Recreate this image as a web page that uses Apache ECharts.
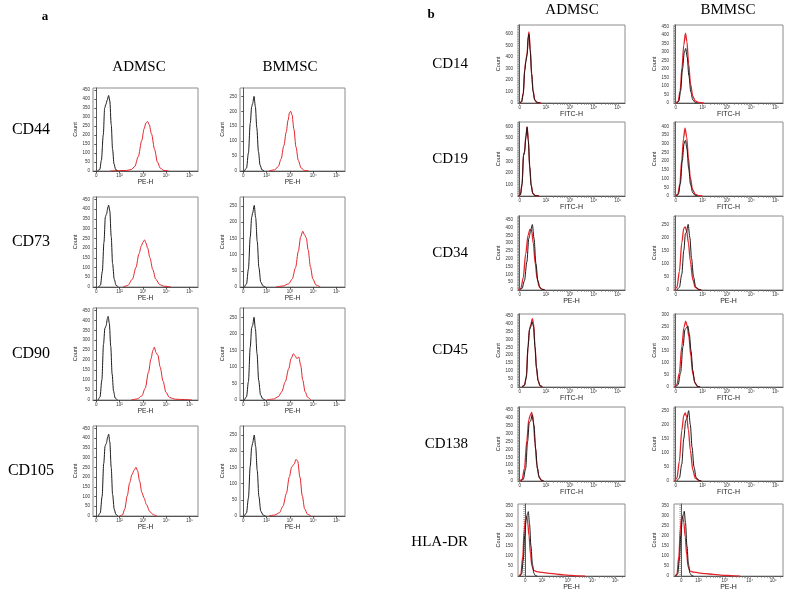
<!DOCTYPE html>
<html><head><meta charset="utf-8">
<script src="https://cdn.jsdelivr.net/npm/echarts@6/dist/echarts.min.js"></script>
<style>html,body{margin:0;padding:0;background:#fff}#c{width:787px;height:592px}</style>
</head><body><div id="c"></div>
<script>
// ================= DATA =================
const xTickLabels = ['0', '10²', '10³', '10⁴', '10⁵'];
const columns = ['ADMSC', 'BMMSC'];
const rowsA = ['CD44', 'CD73', 'CD90', 'CD105'];
const rowsB = ['CD14', 'CD19', 'CD34', 'CD45', 'CD138', 'HLA-DR'];
const channelsA = ['PE-H', 'PE-H', 'PE-H', 'PE-H'];
const channelsB = ['FITC-H', 'FITC-H', 'PE-H', 'FITC-H', 'FITC-H', 'PE-H'];

// y axis per panel: [tick step, axis max]  (ADMSC, BMMSC)
const yAxisA = [[[50, 462], [50, 278]], [[50, 462], [50, 278]], [[50, 462], [50, 278]], [[50, 462], [50, 278]]];
const yAxisB = [[[100, 680], [50, 458]], [[100, 640], [50, 425]], [[50, 475], [50, 282]],
                [[50, 460], [50, 305]], [[50, 470], [50, 263]], [[50, 358], [50, 358]]];

// x decade positions of the tick labels (display units)
const xTicksA = [0, 1, 2, 3, 4];
const xTicksB = [0, 1.1, 2.1, 3.1, 4.1];
const xTicksHLA = [0, 0.7, 1.78, 2.8, 3.76];

// ---- panel a curves [x, count] ----
const a_cd44_ad_black = [[0.05,0],[0.15,8],[0.22,60],[0.3,200],[0.36,350],[0.41,370],[0.47,395],[0.53,420],[0.58,390],[0.64,260],[0.7,120],[0.76,40],[0.83,8],[0.92,0]];
const a_cd44_ad_red = [[0.6,0],[1.0,2],[1.3,3],[1.5,8],[1.65,25],[1.8,80],[1.95,170],[2.05,235],[2.13,268],[2.2,275],[2.27,258],[2.37,205],[2.5,120],[2.62,50],[2.75,15],[2.9,3],[3.1,0]];
const a_cd44_bm_black = [[0.05,0],[0.14,10],[0.22,60],[0.3,160],[0.36,215],[0.4,225],[0.46,250],[0.52,215],[0.58,145],[0.65,65],[0.72,20],[0.8,4],[0.9,0]];
const a_cd44_bm_red = [[1.1,0],[1.35,4],[1.5,15],[1.62,40],[1.74,85],[1.84,130],[1.92,170],[1.98,195],[2.03,200],[2.09,188],[2.17,140],[2.26,80],[2.36,35],[2.48,10],[2.62,2],[2.8,0]];

const a_cd73_ad_black = [[0.1,0],[0.18,10],[0.26,80],[0.33,230],[0.39,360],[0.44,375],[0.5,410],[0.53,420],[0.58,390],[0.64,260],[0.7,120],[0.77,40],[0.85,8],[0.95,0]];
const a_cd73_ad_red = [[1.15,0],[1.35,8],[1.55,40],[1.7,100],[1.83,170],[1.93,210],[2.0,230],[2.07,242],[2.13,225],[2.2,200],[2.3,150],[2.42,90],[2.55,40],[2.72,12],[2.9,4],[3.2,0]];
const a_cd73_bm_black = [[0.05,0],[0.14,10],[0.22,55],[0.3,155],[0.36,215],[0.4,228],[0.47,252],[0.53,215],[0.6,140],[0.67,60],[0.75,15],[0.85,3],[0.95,0]];
const a_cd73_bm_red = [[1.4,0],[1.7,3],[1.95,10],[2.1,25],[2.24,60],[2.36,110],[2.46,155],[2.55,172],[2.62,162],[2.7,152],[2.78,115],[2.88,62],[2.98,25],[3.12,6],[3.3,0]];

const a_cd90_ad_black = [[0.08,0],[0.16,15],[0.24,100],[0.31,280],[0.37,360],[0.42,372],[0.48,410],[0.51,420],[0.56,385],[0.62,270],[0.68,130],[0.74,45],[0.81,10],[0.9,0]];
const a_cd90_ad_red = [[1.5,0],[1.75,5],[1.95,20],[2.1,60],[2.24,140],[2.34,205],[2.43,250],[2.49,265],[2.56,238],[2.64,225],[2.74,165],[2.86,95],[2.99,38],[3.14,12],[3.4,4],[3.8,2],[4.1,0]];
const a_cd90_bm_black = [[0.05,0],[0.14,10],[0.22,55],[0.3,160],[0.36,218],[0.4,225],[0.46,250],[0.52,215],[0.59,140],[0.66,60],[0.74,15],[0.84,3],[0.94,0]];
const a_cd90_bm_red = [[1.0,0],[1.3,3],[1.5,10],[1.65,25],[1.8,55],[1.95,95],[2.05,125],[2.15,140],[2.22,134],[2.3,125],[2.38,130],[2.46,105],[2.55,60],[2.65,25],[2.76,8],[2.9,0]];

const a_cd105_ad_black = [[0.08,0],[0.17,15],[0.25,100],[0.32,270],[0.38,360],[0.43,372],[0.49,405],[0.53,420],[0.58,380],[0.64,250],[0.7,110],[0.77,35],[0.84,8],[0.93,0]];
const a_cd105_ad_red = [[1.0,0],[1.12,5],[1.22,35],[1.33,105],[1.43,170],[1.53,212],[1.62,235],[1.7,250],[1.77,232],[1.86,178],[1.95,122],[2.05,92],[2.15,58],[2.3,22],[2.45,6],[2.6,0]];
const a_cd105_bm_black = [[0.05,0],[0.14,10],[0.22,55],[0.3,155],[0.36,212],[0.4,225],[0.47,250],[0.53,215],[0.6,140],[0.67,60],[0.75,15],[0.85,3],[0.95,0]];
const a_cd105_bm_red = [[1.1,0],[1.35,3],[1.55,10],[1.7,30],[1.85,70],[1.97,120],[2.08,152],[2.18,160],[2.26,175],[2.33,170],[2.43,120],[2.53,62],[2.63,22],[2.76,5],[2.9,0]];

// ---- panel b curves [x, count] ----
const b_cd14_ad_black = [[0.0,0],[0.08,10],[0.15,80],[0.21,280],[0.26,365],[0.31,420],[0.36,570],[0.39,600],[0.44,460],[0.5,250],[0.56,100],[0.63,25],[0.72,5],[0.85,0]];
const b_cd14_ad_red = [[0.0,0],[0.08,12],[0.15,85],[0.21,290],[0.26,370],[0.31,430],[0.36,590],[0.39,620],[0.44,470],[0.5,260],[0.56,105],[0.63,28],[0.72,6],[0.9,0]];
const b_cd14_bm_black = [[0.05,0],[0.13,10],[0.2,70],[0.28,200],[0.35,295],[0.41,320],[0.47,270],[0.54,160],[0.62,65],[0.7,18],[0.8,3],[0.9,0]];
const b_cd14_bm_red = [[0.0,0],[0.1,10],[0.18,70],[0.26,210],[0.33,340],[0.4,410],[0.46,360],[0.53,230],[0.61,110],[0.7,40],[0.8,12],[0.95,3],[1.15,0]];

const b_cd19_ad_black = [[-0.05,0],[0.03,10],[0.1,100],[0.16,350],[0.2,375],[0.26,510],[0.31,595],[0.36,480],[0.42,250],[0.48,90],[0.55,20],[0.65,3],[0.8,0]];
const b_cd19_ad_red = [[-0.05,0],[0.03,12],[0.1,105],[0.16,355],[0.2,380],[0.26,515],[0.31,600],[0.36,490],[0.42,255],[0.48,95],[0.55,22],[0.65,4],[0.8,0]];
const b_cd19_bm_black = [[0.03,0],[0.11,10],[0.19,70],[0.27,200],[0.34,300],[0.4,320],[0.46,270],[0.53,160],[0.61,65],[0.7,18],[0.8,3],[0.9,0]];
const b_cd19_bm_red = [[0.0,0],[0.09,10],[0.17,70],[0.25,210],[0.32,330],[0.38,390],[0.45,340],[0.52,220],[0.6,105],[0.69,38],[0.8,10],[0.95,2],[1.1,0]];

const b_cd34_ad_black = [[0.0,0],[0.1,10],[0.2,60],[0.3,180],[0.38,330],[0.45,370],[0.53,420],[0.6,330],[0.68,170],[0.76,60],[0.85,15],[0.95,3],[1.05,0]];
const b_cd34_ad_red = [[-0.05,0],[0.05,10],[0.15,80],[0.25,230],[0.35,350],[0.43,390],[0.5,380],[0.57,300],[0.65,170],[0.73,70],[0.82,20],[0.92,5],[1.05,0]];
const b_cd34_bm_black = [[0.05,0],[0.15,10],[0.25,60],[0.33,150],[0.4,215],[0.44,220],[0.51,250],[0.58,200],[0.65,120],[0.73,50],[0.82,12],[0.95,2],[1.05,0]];
const b_cd34_bm_red = [[-0.05,0],[0.05,10],[0.15,70],[0.25,180],[0.33,235],[0.39,240],[0.45,225],[0.52,180],[0.6,110],[0.7,40],[0.8,10],[0.95,2],[1.05,0]];

const b_cd45_ad_black = [[0.1,0],[0.2,10],[0.28,60],[0.35,250],[0.41,360],[0.45,375],[0.52,410],[0.58,380],[0.64,250],[0.7,120],[0.77,40],[0.85,8],[0.95,0]];
const b_cd45_ad_red = [[0.1,0],[0.2,12],[0.28,70],[0.35,260],[0.41,365],[0.46,390],[0.53,430],[0.58,400],[0.64,260],[0.7,125],[0.77,40],[0.85,8],[0.95,0]];
const b_cd45_bm_black = [[0.0,0],[0.1,10],[0.2,60],[0.3,170],[0.38,240],[0.43,245],[0.5,255],[0.56,220],[0.63,150],[0.7,70],[0.78,20],[0.88,3],[1.0,0]];
const b_cd45_bm_red = [[-0.05,0],[0.05,10],[0.15,60],[0.25,170],[0.34,250],[0.41,275],[0.47,255],[0.54,210],[0.62,130],[0.7,55],[0.8,15],[0.9,3],[1.0,0]];

const b_cd138_ad_black = [[0.05,0],[0.15,10],[0.25,80],[0.33,250],[0.4,370],[0.45,380],[0.53,420],[0.6,350],[0.67,200],[0.74,80],[0.82,20],[0.92,3],[1.0,0]];
const b_cd138_ad_red = [[0.0,0],[0.1,10],[0.2,80],[0.3,260],[0.38,390],[0.45,420],[0.5,435],[0.57,380],[0.64,240],[0.72,100],[0.8,30],[0.9,5],[1.0,0]];
const b_cd138_bm_black = [[0.05,0],[0.15,10],[0.25,60],[0.33,150],[0.41,215],[0.46,222],[0.53,250],[0.6,200],[0.67,120],[0.75,50],[0.84,12],[0.95,2],[1.05,0]];
const b_cd138_bm_red = [[-0.05,0],[0.05,10],[0.15,70],[0.25,180],[0.33,232],[0.39,242],[0.45,228],[0.52,182],[0.6,110],[0.7,40],[0.8,10],[0.95,2],[1.05,0]];

const b_hla_ad_black = [[-0.22,0],[-0.15,10],[-0.08,80],[-0.02,200],[0.04,280],[0.1,310],[0.13,320],[0.18,260],[0.24,150],[0.3,60],[0.36,15],[0.42,3],[0.5,0]];
const b_hla_ad_red = [[-0.25,0],[-0.18,10],[-0.1,100],[-0.04,230],[0.02,290],[0.06,295],[0.1,270],[0.16,200],[0.22,110],[0.28,50],[0.36,28],[0.5,22],[0.7,18],[1.0,14],[1.3,10],[1.6,6],[1.9,3],[2.2,1],[2.5,0]];
const b_hla_bm_black = [[-0.22,0],[-0.15,10],[-0.08,80],[-0.02,200],[0.04,285],[0.09,310],[0.12,322],[0.17,265],[0.23,150],[0.29,60],[0.35,15],[0.42,3],[0.5,0]];
const b_hla_bm_red = [[-0.25,0],[-0.18,10],[-0.1,100],[-0.04,235],[0.01,290],[0.05,295],[0.1,268],[0.16,195],[0.22,105],[0.28,45],[0.36,25],[0.5,20],[0.7,16],[1.0,12],[1.3,9],[1.6,5],[1.9,3],[2.2,1],[2.4,0]];

const curvesA = [
  [[a_cd44_ad_black, a_cd44_ad_red], [a_cd44_bm_black, a_cd44_bm_red]],
  [[a_cd73_ad_black, a_cd73_ad_red], [a_cd73_bm_black, a_cd73_bm_red]],
  [[a_cd90_ad_black, a_cd90_ad_red], [a_cd90_bm_black, a_cd90_bm_red]],
  [[a_cd105_ad_black, a_cd105_ad_red], [a_cd105_bm_black, a_cd105_bm_red]]
];
const curvesB = [
  [[b_cd14_ad_black, b_cd14_ad_red], [b_cd14_bm_black, b_cd14_bm_red]],
  [[b_cd19_ad_black, b_cd19_ad_red], [b_cd19_bm_black, b_cd19_bm_red]],
  [[b_cd34_ad_black, b_cd34_ad_red], [b_cd34_bm_black, b_cd34_bm_red]],
  [[b_cd45_ad_black, b_cd45_ad_red], [b_cd45_bm_black, b_cd45_bm_red]],
  [[b_cd138_ad_black, b_cd138_ad_red], [b_cd138_bm_black, b_cd138_bm_red]],
  [[b_hla_ad_black, b_hla_ad_red], [b_hla_bm_black, b_hla_bm_red]]
];

// ================= LAYOUT =================
const layA = {
  cols: [[93, 105], [240, 105]],
  rows: [[88, 83], [197, 90], [308, 92], [426, 90]],
  xRange: [-0.14, 4.36], labelX: 31
};
const layB = {
  cols: [[518, 107], [674, 109]],
  rows: [[25, 78], [122, 74], [216, 74], [314, 73], [407, 74], [504, 76]],
  xRange: [-0.07, 4.4], xRangeHLA: [-0.3, 4.16], labelX: 468
};
const BLACK = '#1a1a1a', RED = '#e3242b', BORDER = '#8c8c8c';
const SANS = 'Liberation Sans', SERIF = 'Liberation Serif';

const option = { animation: false, backgroundColor: '#fff', grid: [], xAxis: [], yAxis: [], series: [], graphic: [] };

function addPanel(box, xTicks, xRange, minor, yCfg, xName, curves, st) {
  const i = option.grid.length;
  option.grid.push({ left: box[0], top: box[1], width: box[2], height: box[3], show: true,
    borderColor: BORDER, borderWidth: 1, backgroundColor: 'transparent' });
  let tickVals = xTicks.slice();
  if (minor) {
    for (let d = 1; d < xTicks.length; d++) {
      for (let k = 2; k <= 9; k++) {
        const v = xTicks[d] + Math.log10(k);
        if (v < xRange[1]) tickVals.push(v);
      }
    }
  }
  const tickStyle = minor ? { color: '#777', width: 0.6 } : { color: '#333', width: 0.8 };
  option.xAxis.push({ gridIndex: i, type: 'value', min: xRange[0], max: xRange[1],
    name: xName, nameLocation: 'middle', nameGap: st.xNameGap,
    nameTextStyle: { fontFamily: SANS, fontSize: st.xNameSize, color: '#222' },
    axisLine: { show: true, onZero: false, lineStyle: { color: '#555', width: 1 } },
    axisTick: { show: true, length: 2, customValues: tickVals, lineStyle: tickStyle },
    axisLabel: { customValues: xTicks, margin: 2, fontFamily: SANS, fontSize: 4.5, color: '#333',
      formatter: v => { const j = xTicks.findIndex(t => Math.abs(t - v) < 1e-6); return j >= 0 ? xTickLabels[j] : ''; } },
    splitLine: { show: false } });
  const step = yCfg[0], ymax = yCfg[1];
  const labs = []; for (let v = 0; v <= ymax + 1e-9; v += step) labs.push(v);
  let yt = labs.slice();
  if (minor) { yt = []; for (let v = 0; v <= ymax + 1e-9; v += step / 5) yt.push(v); }
  option.yAxis.push({ gridIndex: i, type: 'value', min: 0, max: ymax,
    name: 'Count', nameLocation: 'middle', nameGap: st.yNameGap, nameRotate: 90,
    nameTextStyle: { fontFamily: SANS, fontSize: 5.5, color: '#222' },
    axisLine: { show: true, lineStyle: { color: '#555', width: 1 } },
    axisTick: { show: true, length: 2, customValues: yt, lineStyle: tickStyle },
    axisLabel: { customValues: labs, margin: st.yLabelMargin, fontFamily: SANS, fontSize: 4.5, color: '#333' },
    splitLine: { show: false } });
  const [blk, red] = curves;
  option.series.push({ type: 'line', xAxisIndex: i, yAxisIndex: i, data: red, showSymbol: false,
    smooth: 0.3, smoothMonotone: 'x', silent: true, lineStyle: { color: RED, width: st.redWidth } });
  option.series.push({ type: 'line', xAxisIndex: i, yAxisIndex: i, data: blk, showSymbol: false,
    smooth: 0.3, smoothMonotone: 'x', silent: true, lineStyle: { color: BLACK, width: 1 } });
}

// panel a
const stA = [{ xNameGap: 7, xNameSize: 6.5, yNameGap: 8.5, yLabelMargin: 3, redWidth: 1 },
             { xNameGap: 7, xNameSize: 6.5, yNameGap: 10.5, yLabelMargin: 3, redWidth: 1 }];
rowsA.forEach((r, ri) => {
  columns.forEach((c, ci) => {
    const box = [layA.cols[ci][0], layA.rows[ri][0], layA.cols[ci][1], layA.rows[ri][1]];
    addPanel(box, xTicksA, layA.xRange, false, yAxisA[ri][ci], channelsA[ri], curvesA[ri][ci], stA[ci]);
  });
});
// panel b
const stB = { xNameGap: 5, xNameSize: 7, yNameGap: 13, yLabelMargin: 5, redWidth: 1.3 };
rowsB.forEach((r, ri) => {
  columns.forEach((c, ci) => {
    const box = [layB.cols[ci][0], layB.rows[ri][0], layB.cols[ci][1], layB.rows[ri][1]];
    const hla = r === 'HLA-DR';
    addPanel(box, hla ? xTicksHLA : xTicksB, hla ? layB.xRangeHLA : layB.xRange, true,
      yAxisB[ri][ci], channelsB[ri], curvesB[ri][ci], stB);
  });
});

// texts
function txt(x, y, s, size, opts) {
  option.graphic.push({ type: 'text', x: x, y: y, silent: true,
    style: Object.assign({ text: s, fontFamily: SERIF, fontSize: size, fill: '#000',
      textAlign: 'center', textVerticalAlign: 'middle' }, opts || {}) });
}
txt(45, 17, 'a', 13, { fontWeight: 'bold' });
txt(431, 15, 'b', 13, { fontWeight: 'bold' });
txt(139, 67, columns[0], 15);
txt(290, 67, columns[1], 15);
txt(572, 10, columns[0], 15);
txt(728, 10, columns[1], 15);
rowsA.forEach((r, ri) => txt(layA.labelX, layA.rows[ri][0] + layA.rows[ri][1] / 2, r, 16));
rowsB.forEach((r, ri) => txt(layB.labelX, layB.rows[ri][0] + layB.rows[ri][1] / 2, r, 15, { textAlign: 'right' }));

const chart = echarts.init(document.getElementById('c'), null, { renderer: 'canvas' });
chart.setOption(option);
</script></body></html>
